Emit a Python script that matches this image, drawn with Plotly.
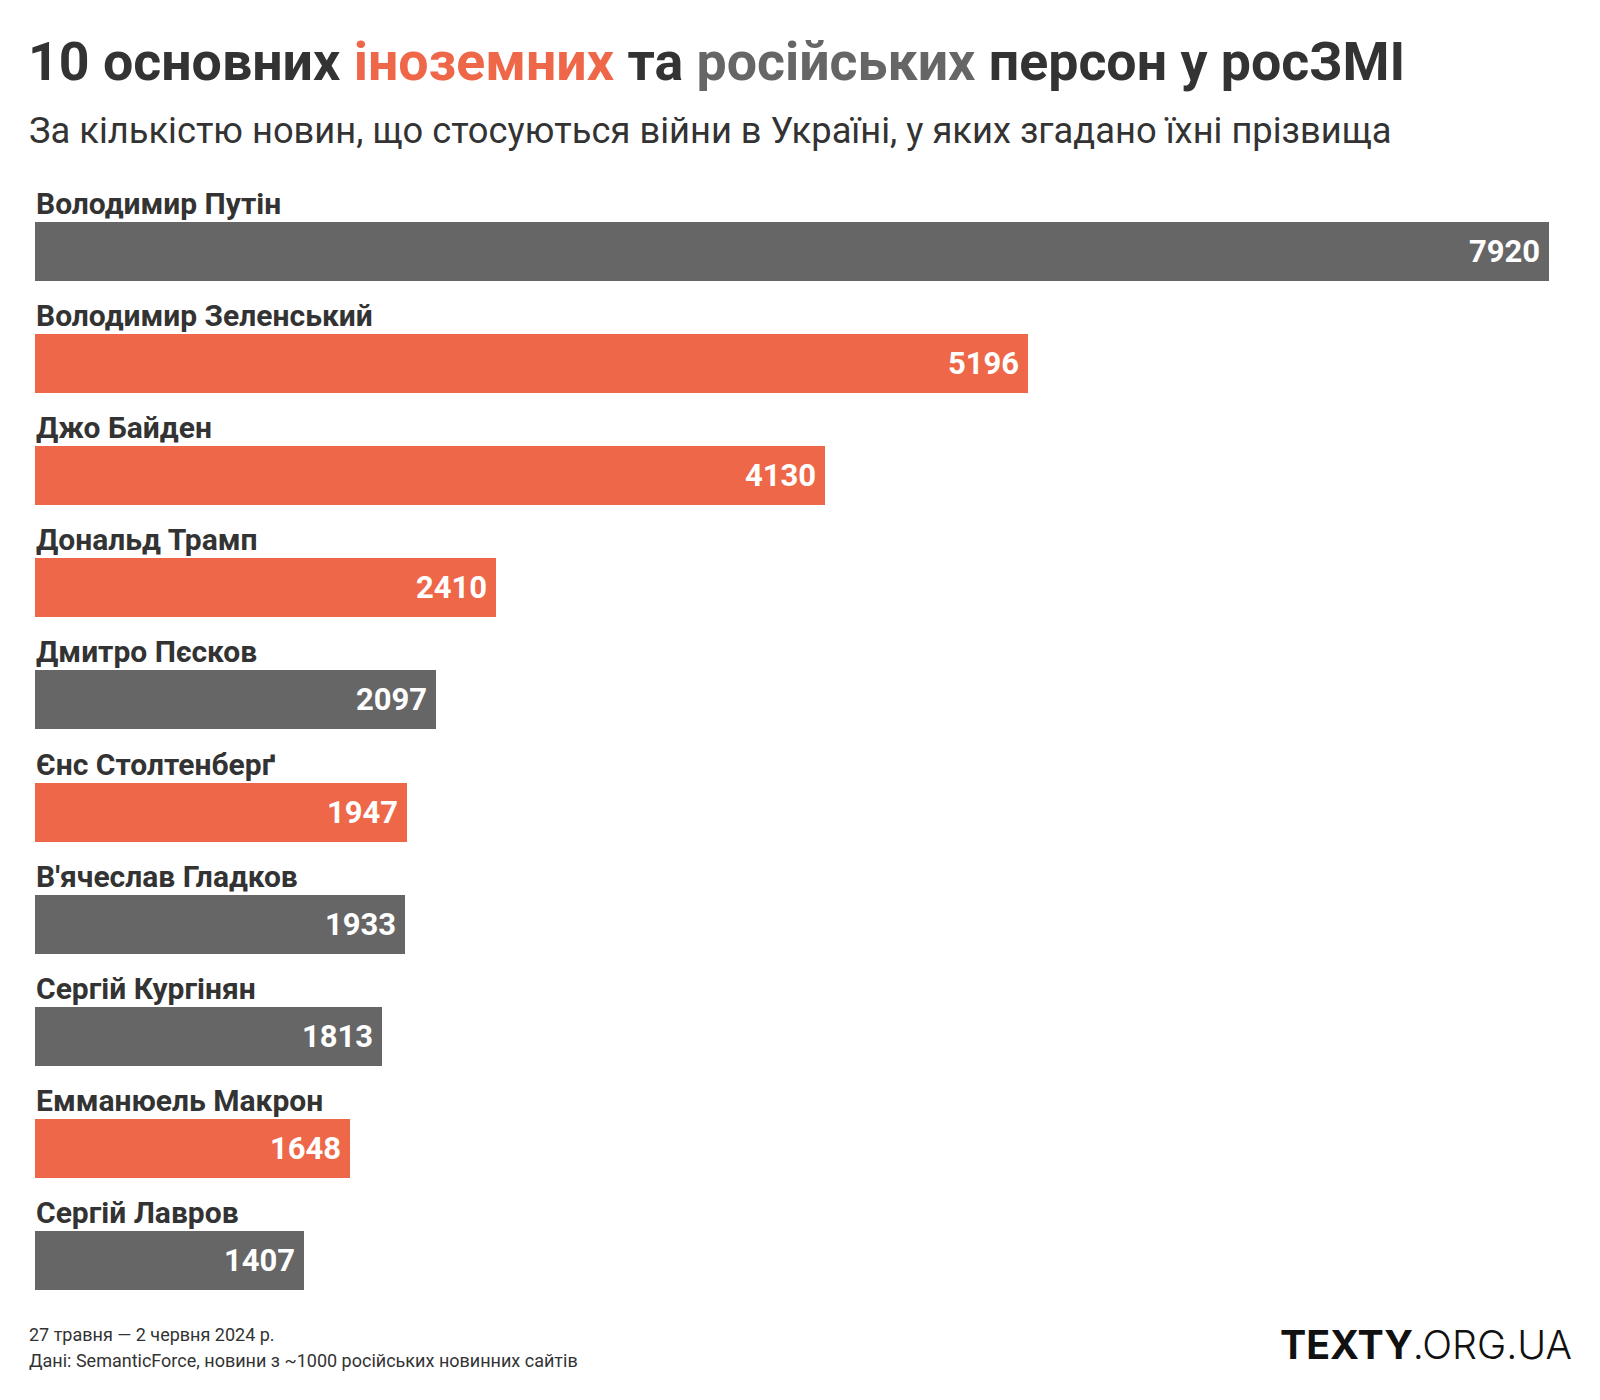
import plotly.graph_objects as go

names = ["Володимир Путін", "Володимир Зеленський", "Джо Байден", "Дональд Трамп",
         "Дмитро Пєсков", "Єнс Столтенберґ", "В'ячеслав Гладков", "Сергій Кургінян",
         "Емманюель Макрон", "Сергій Лавров"]
values = [7920, 5196, 4130, 2410, 2097, 1947, 1933, 1813, 1648, 1407]
groups = ["ru", "foreign", "foreign", "foreign", "ru", "foreign", "ru", "ru", "foreign", "ru"]

ORANGE = "#EE6748"
GREY = "#666666"
DARK = "#333333"
FONT = "Roboto"

colors = [GREY if g == "ru" else ORANGE for g in groups]

W, H = 1600, 1400
OFF = 8  # page body margin
# plot area in page pixels: x 35..1549, y 195..1317
L, R, T, B = 35 - OFF, W - (1549 - OFF), 195 - OFF, H - (1317 - OFF)
PW, PH = W - L - R, H - T - B


def px(x):
    return (x - OFF - L) / PW


def py(y):
    return (H - B - (y - OFF)) / PH


fig = go.Figure(go.Bar(
    x=values, y=names, orientation="h",
    marker=dict(color=colors, line=dict(width=0)),
    width=0.527, hoverinfo="skip",
))

ann = []
for n, v in zip(names, values):
    ann.append(dict(x=0, y=n, xref="x", yref="y", text=f"<b>{n}</b>", showarrow=False,
                    xanchor="left", yanchor="middle", yshift=48, xshift=-1,
                    font=dict(family=FONT, size=30, color=DARK)))
    ann.append(dict(x=v, y=n, xref="x", yref="y", text=f"<b>{v}</b>", showarrow=False,
                    xanchor="right", yanchor="middle", xshift=-7, yshift=0,
                    font=dict(family=FONT, size=31, color="white")))

title = (f"<b>10 основних <span style='color:{ORANGE}'>іноземних</span> та "
         f"<span style='color:{GREY}'>російських</span> персон у росЗМІ</b>")
ann.append(dict(x=px(26), y=py(62), xref="paper", yref="paper", text=title, showarrow=False,
                xanchor="left", yanchor="middle", font=dict(family=FONT, size=53.7, color=DARK)))
ann.append(dict(x=px(27), y=py(131), xref="paper", yref="paper",
                text="За кількістю новин, що стосуються війни в Україні, у яких згадано їхні прізвища",
                showarrow=False, xanchor="left", yanchor="middle",
                font=dict(family=FONT, size=36.3, color=DARK)))
ann.append(dict(x=px(27), y=py(1334), xref="paper", yref="paper",
                text="27 травня — 2 червня 2024 р.", showarrow=False, xanchor="left", yanchor="middle",
                font=dict(family=FONT, size=18, color=DARK)))
ann.append(dict(x=px(27), y=py(1360), xref="paper", yref="paper",
                text="Дані: SemanticForce, новини з ~1000 російських новинних сайтів", showarrow=False,
                xanchor="left", yanchor="middle", font=dict(family=FONT, size=18, color=DARK)))
ann.append(dict(x=px(1574), y=py(1344), xref="paper", yref="paper",
                text="<b>TEXTY</b><span style='font-weight:300'>.ORG.UA</span>", showarrow=False,
                xanchor="right", yanchor="middle",
                font=dict(family="Inter", size=39.3, color="#111111")))

fig.update_layout(
    width=W, height=H,
    margin=dict(l=L, r=R, t=T, b=B, pad=0),
    paper_bgcolor="white", plot_bgcolor="white",
    showlegend=False,
    annotations=ann,
    bargap=0,
)
fig.update_xaxes(range=[0, max(values)], visible=False, fixedrange=True)
fig.update_yaxes(categoryorder="array", categoryarray=names,
                 range=[len(names) - 0.5, -0.5], visible=False, fixedrange=True)

fig.write_html("out.html", config={"displayModeBar": False})
